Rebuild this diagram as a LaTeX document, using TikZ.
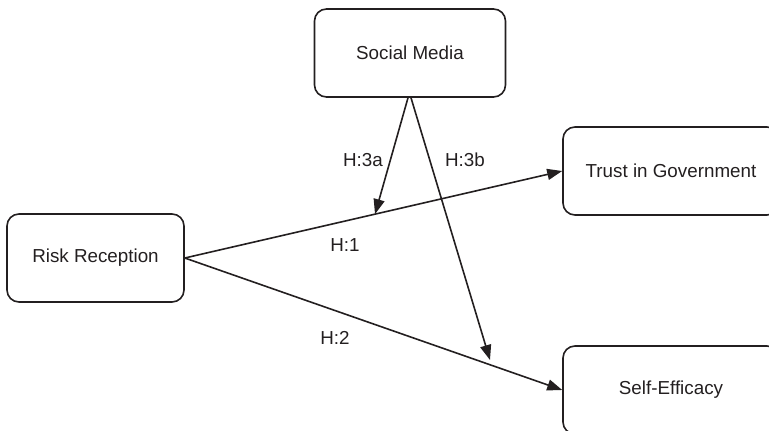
\documentclass[tikz,border=0pt]{standalone}
\usepackage{fontspec}
\setmainfont{Liberation Sans}
\usetikzlibrary{arrows.meta,calc}
\definecolor{ink}{HTML}{231F20}
\begin{document}
\begin{tikzpicture}[x=1pt,y=-1pt,
  box/.style={draw=ink,line width=1.6pt,rounded corners=12pt,text=ink,
    font=\fontsize{18.8}{22}\selectfont,inner sep=0pt},
  lbl/.style={text=ink,font=\fontsize{18.8}{22}\selectfont,inner sep=0pt},
  conn/.style={draw=ink,line width=1.6pt,-{Triangle[length=15pt,width=11pt]}}]
\useasboundingbox (0,0) rectangle (769,431);
\clip (0,0) rectangle (769,431);
\node[box,minimum width=191pt,minimum height=88pt] (sm) at (410,53) {Social Media};
\node[box,minimum width=177pt,minimum height=88pt] (rr) at (95.5,258) {Risk Reception};
\node[box,minimum width=216pt,minimum height=88pt] (tg) at (671,171) {Trust in Government};
\node[box,minimum width=216pt,minimum height=88pt] (se) at (671,390) {Self-Efficacy};
\coordinate (h3a) at ($(rr.east)!0.504!(tg.west)$);
\coordinate (h3b) at (490,360);
\draw[conn] (rr.east) -- (tg.west);
\draw[conn] (rr.east) -- (se.west);
\draw[conn] ([xshift=-2pt]sm.south) -- (h3a);
\draw[conn] ([xshift=1pt]sm.south) -- (h3b);
\node[lbl] (l3a) at (363,160) {H:3a};
\node[lbl] (l3b) at (465,160) {H:3b};
\node[lbl] (l1) at (345,245) {H:1};
\node[lbl] (l2) at (335,338) {H:2};
\end{tikzpicture}
\end{document}
